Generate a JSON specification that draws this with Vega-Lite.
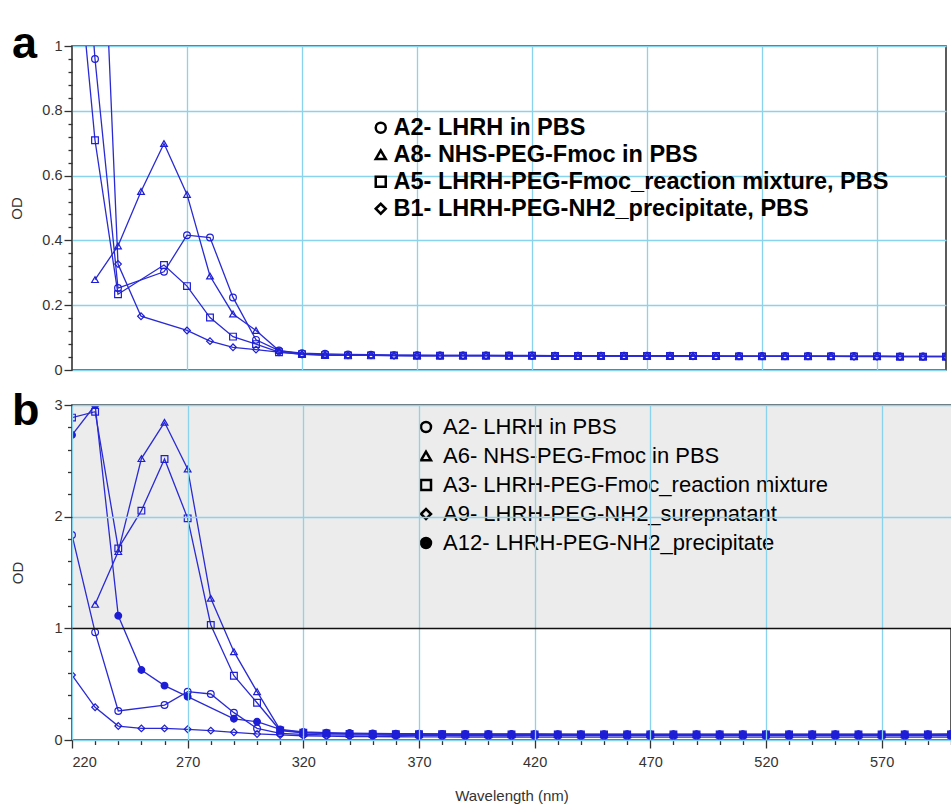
{
  "$schema": "https://vega.github.io/schema/vega-lite/v6.json",
  "autosize": {"type": "pad"},
  "padding": {"left": 9, "top": 21, "right": 0, "bottom": 0},
  "config": {
    "view": {"stroke": "#333333", "strokeWidth": 1.6},
    "axis": {
      "labelFont": "Liberation Sans", "labelFontSize": 14.5, "labelColor": "#333333",
      "titleFont": "Liberation Sans", "titleFontSize": 15, "titleFontWeight": "normal", "titleColor": "#333333",
      "domain": false, "tickColor": "#333333", "tickWidth": 1.3,
      "gridColor": "#8ad3ec", "gridOpacity": 1, "gridWidth": 1.3
    },
    "legend": {
      "orient": "none", "title": null, "labelFont": "Liberation Sans", "labelFontSize": 22,
      "labelColor": "black", "labelLimit": 1000, "symbolSize": 100, "symbolStrokeWidth": 2.5,
      "symbolStrokeColor": "black", "padding": 0, "labelOffset": 9
    }
  },
  "resolve": {"scale": {"shape": "independent", "x": "independent", "y": "independent"}, "legend": {"shape": "independent"}},
  "spacing": 35,
  "bounds": "flush",
  "vconcat": [
    {
      "width": 874,
      "height": 324,
      "title": {"text": "a", "anchor": "start", "frame": "group", "font": "Liberation Sans", "fontSize": 45, "fontWeight": "bold", "color": "black", "dx": -60, "dy": 65, "baseline": "alphabetic", "offset": 0},
      "data": {"name": "panelA"},
      "layer": [
        {
          "mark": {"type": "line", "clip": true, "color": "#2a2ad4", "strokeWidth": 1.3},
          "encoding": {
            "x": {"field": "wl", "type": "quantitative", "scale": {"domain": [220, 600], "nice": false, "zero": false},
                  "axis": {"values": [270, 320, 370, 420, 470, 520, 570], "grid": true, "labels": false, "ticks": false, "title": null}},
            "y": {"field": "od", "type": "quantitative", "scale": {"domain": [0, 1], "nice": false},
                  "axis": {"orient": "left", "values": [0, 0.2, 0.4, 0.6, 0.8, 1], "format": "~g", "grid": true, "tickSize": 8, "labelPadding": 2, "title": "OD", "titlePadding": 17}},
            "detail": {"field": "series"}
          }
        },
        {
          "mark": {"type": "point", "clip": true, "filled": false, "size": 45, "color": "#1e1ed6", "strokeWidth": 1.2, "opacity": 1},
          "encoding": {
            "x": {"field": "wl", "type": "quantitative", "axis": null},
            "y": {"field": "od", "type": "quantitative",
                  "axis": {"orient": "left", "values": [0.04, 0.08, 0.12, 0.16, 0.24, 0.28, 0.32, 0.36, 0.44, 0.48, 0.52, 0.56, 0.64, 0.68, 0.72, 0.76, 0.84, 0.88, 0.92, 0.96], "labels": false, "grid": false, "tickSize": 4, "title": null}},
            "shape": {"field": "series", "type": "nominal",
                      "scale": {"domain": ["A2", "A8", "A5", "B1"], "range": ["circle", "triangle-up", "square", "diamond"]},
                      "legend": {"legendX": 297, "legendY": 70, "labelFontWeight": "bold", "labelFontSize": 23.5, "rowPadding": 2, "labelOffset": 1,
                                 "labelExpr": "datum.label == 'A2' ? 'A2- LHRH in PBS' : datum.label == 'A8' ? 'A8- NHS-PEG-Fmoc in PBS' : datum.label == 'A5' ? 'A5- LHRH-PEG-Fmoc_reaction mixture, PBS' : 'B1- LHRH-PEG-NH2_precipitate, PBS'",
                                 "encode": {"symbols": {"stroke": {"value": "black"}, "fill": {"value": "transparent"}, "strokeWidth": {"value": 2.5}}}}}
          }
        }
      ],
      "resolve": {"axis": {"x": "independent", "y": "independent"}}
    },
    {
      "width": 879,
      "height": 335,
      "title": {"text": "b", "anchor": "start", "frame": "group", "font": "Liberation Sans", "fontSize": 45, "fontWeight": "bold", "color": "black", "dx": -60, "dy": 73, "baseline": "alphabetic", "offset": 0},
      "layer": [
        {
          "data": {"values": [{}]},
          "mark": {"type": "rect", "color": "#ececec"},
          "encoding": {
            "x": {"datum": 220, "type": "quantitative", "scale": {"domain": [220, 600], "nice": false, "zero": false}, "axis": null},
            "x2": {"datum": 600},
            "y": {"datum": 1, "type": "quantitative", "scale": {"domain": [0, 3], "nice": false}, "axis": null},
            "y2": {"datum": 3}
          }
        },
        {
          "data": {"name": "panelB"},
          "mark": {"type": "line", "clip": true, "color": "#2a2ad4", "strokeWidth": 1.3},
          "encoding": {
            "x": {"field": "wl", "type": "quantitative",
                  "axis": {"values": [220, 270, 320, 370, 420, 470, 520, 570], "grid": true, "tickSize": 8, "labelPadding": 7, "title": "Wavelength (nm)", "titlePadding": 20, "zindex": 1}},
            "y": {"field": "od", "type": "quantitative",
                  "axis": {"orient": "left", "values": [0, 1, 2, 3], "grid": true, "tickSize": 8, "labelPadding": 2, "title": "OD", "titlePadding": 28, "zindex": 1,
                           "gridColor": {"condition": {"test": "datum.value === 1", "value": "#111111"}, "value": "#8ad3ec"}}},
            "detail": {"field": "series"}
          }
        },
        {
          "data": {"name": "panelB"},
          "mark": {"type": "point", "clip": true, "filled": false, "size": 45, "color": "#1e1ed6", "strokeWidth": 1.2, "opacity": 1},
          "encoding": {
            "x": {"field": "wl", "type": "quantitative",
                  "axis": {"orient": "bottom", "values": [230, 240, 250, 260, 280, 290, 300, 310, 330, 340, 350, 360, 380, 390, 400, 410, 430, 440, 450, 460, 480, 490, 500, 510, 530, 540, 550, 560, 580, 590, 600], "labels": false, "grid": false, "tickSize": 4.5, "title": null}},
            "y": {"field": "od", "type": "quantitative",
                  "axis": {"orient": "left", "values": [0.2, 0.4, 0.6, 0.8, 1.2, 1.4, 1.6, 1.8, 2.2, 2.4, 2.6, 2.8], "labels": false, "grid": false, "tickSize": 4.5, "title": null}},
            "fill": {"condition": {"test": "datum.series === 'A12'", "value": "#1414d9"}, "value": "transparent"},
            "shape": {"field": "series", "type": "nominal",
                      "scale": {"domain": ["A2", "A6", "A3", "A9", "A12"],
                                "range": ["circle", "triangle-up", "square", "diamond", "M-1,0A1,1 0 1,0 1,0A1,1 0 1,0 -1,0ZM-0.64,0A0.64,0.64 0 1,0 0.64,0A0.64,0.64 0 1,0 -0.64,0ZM-0.28,0A0.28,0.28 0 1,0 0.28,0A0.28,0.28 0 1,0 -0.28,0Z"]},
                      "legend": {"legendX": 343, "legendY": 11, "labelFontWeight": "normal", "rowPadding": 7, "labelOffset": 6,
                                 "labelExpr": "datum.label == 'A2' ? 'A2- LHRH in PBS' : datum.label == 'A6' ? 'A6- NHS-PEG-Fmoc in PBS' : datum.label == 'A3' ? 'A3- LHRH-PEG-Fmoc_reaction mixture' : datum.label == 'A9' ? 'A9- LHRH-PEG-NH2_surepnatant' : 'A12- LHRH-PEG-NH2_precipitate'",
                                 "encode": {"symbols": {"stroke": {"value": "black"}, "strokeWidth": {"value": 2.5}}}}}
          }
        }
      ],
      "resolve": {"axis": {"x": "independent", "y": "independent"}}
    }
  ],
  "datasets": {
    "panelA": [
      {"series": "A2", "wl": 220, "od": 1.9}, {"series": "A2", "wl": 230, "od": 0.96}, {"series": "A2", "wl": 240, "od": 0.253}, {"series": "A2", "wl": 260, "od": 0.303}, {"series": "A2", "wl": 270, "od": 0.416}, {"series": "A2", "wl": 280, "od": 0.409}, {"series": "A2", "wl": 290, "od": 0.224}, {"series": "A2", "wl": 300, "od": 0.093}, {"series": "A2", "wl": 310, "od": 0.06},
      {"series": "A2", "wl": 320, "od": 0.052}, {"series": "A2", "wl": 330, "od": 0.05}, {"series": "A2", "wl": 340, "od": 0.048}, {"series": "A2", "wl": 350, "od": 0.047}, {"series": "A2", "wl": 360, "od": 0.046}, {"series": "A2", "wl": 370, "od": 0.046}, {"series": "A2", "wl": 380, "od": 0.045}, {"series": "A2", "wl": 390, "od": 0.045}, {"series": "A2", "wl": 400, "od": 0.045}, {"series": "A2", "wl": 410, "od": 0.045}, {"series": "A2", "wl": 420, "od": 0.045}, {"series": "A2", "wl": 430, "od": 0.044}, {"series": "A2", "wl": 440, "od": 0.044}, {"series": "A2", "wl": 450, "od": 0.044}, {"series": "A2", "wl": 460, "od": 0.044}, {"series": "A2", "wl": 470, "od": 0.044}, {"series": "A2", "wl": 480, "od": 0.044}, {"series": "A2", "wl": 490, "od": 0.044}, {"series": "A2", "wl": 500, "od": 0.043}, {"series": "A2", "wl": 510, "od": 0.043}, {"series": "A2", "wl": 520, "od": 0.043}, {"series": "A2", "wl": 530, "od": 0.043}, {"series": "A2", "wl": 540, "od": 0.043}, {"series": "A2", "wl": 550, "od": 0.043}, {"series": "A2", "wl": 560, "od": 0.043}, {"series": "A2", "wl": 570, "od": 0.043}, {"series": "A2", "wl": 580, "od": 0.042}, {"series": "A2", "wl": 590, "od": 0.042}, {"series": "A2", "wl": 600, "od": 0.042},
      {"series": "A8", "wl": 230, "od": 0.279}, {"series": "A8", "wl": 240, "od": 0.383}, {"series": "A8", "wl": 250, "od": 0.551}, {"series": "A8", "wl": 260, "od": 0.699}, {"series": "A8", "wl": 270, "od": 0.542}, {"series": "A8", "wl": 280, "od": 0.29}, {"series": "A8", "wl": 290, "od": 0.173}, {"series": "A8", "wl": 300, "od": 0.122}, {"series": "A8", "wl": 310, "od": 0.06},
      {"series": "A8", "wl": 320, "od": 0.05}, {"series": "A8", "wl": 330, "od": 0.047}, {"series": "A8", "wl": 340, "od": 0.046}, {"series": "A8", "wl": 350, "od": 0.046}, {"series": "A8", "wl": 360, "od": 0.045}, {"series": "A8", "wl": 370, "od": 0.045}, {"series": "A8", "wl": 380, "od": 0.045}, {"series": "A8", "wl": 390, "od": 0.045}, {"series": "A8", "wl": 400, "od": 0.045}, {"series": "A8", "wl": 410, "od": 0.044}, {"series": "A8", "wl": 420, "od": 0.044}, {"series": "A8", "wl": 430, "od": 0.044}, {"series": "A8", "wl": 440, "od": 0.044}, {"series": "A8", "wl": 450, "od": 0.044}, {"series": "A8", "wl": 460, "od": 0.044}, {"series": "A8", "wl": 470, "od": 0.044}, {"series": "A8", "wl": 480, "od": 0.043}, {"series": "A8", "wl": 490, "od": 0.043}, {"series": "A8", "wl": 500, "od": 0.043}, {"series": "A8", "wl": 510, "od": 0.043}, {"series": "A8", "wl": 520, "od": 0.043}, {"series": "A8", "wl": 530, "od": 0.043}, {"series": "A8", "wl": 540, "od": 0.043}, {"series": "A8", "wl": 550, "od": 0.042}, {"series": "A8", "wl": 560, "od": 0.042}, {"series": "A8", "wl": 570, "od": 0.042}, {"series": "A8", "wl": 580, "od": 0.042}, {"series": "A8", "wl": 590, "od": 0.042}, {"series": "A8", "wl": 600, "od": 0.042},
      {"series": "A5", "wl": 220, "od": 1.46}, {"series": "A5", "wl": 230, "od": 0.709}, {"series": "A5", "wl": 240, "od": 0.234}, {"series": "A5", "wl": 260, "od": 0.324}, {"series": "A5", "wl": 270, "od": 0.259}, {"series": "A5", "wl": 280, "od": 0.162}, {"series": "A5", "wl": 290, "od": 0.103}, {"series": "A5", "wl": 300, "od": 0.08}, {"series": "A5", "wl": 310, "od": 0.055},
      {"series": "A5", "wl": 320, "od": 0.049}, {"series": "A5", "wl": 330, "od": 0.046}, {"series": "A5", "wl": 340, "od": 0.045}, {"series": "A5", "wl": 350, "od": 0.045}, {"series": "A5", "wl": 360, "od": 0.045}, {"series": "A5", "wl": 370, "od": 0.044}, {"series": "A5", "wl": 380, "od": 0.044}, {"series": "A5", "wl": 390, "od": 0.044}, {"series": "A5", "wl": 400, "od": 0.044}, {"series": "A5", "wl": 410, "od": 0.044}, {"series": "A5", "wl": 420, "od": 0.044}, {"series": "A5", "wl": 430, "od": 0.043}, {"series": "A5", "wl": 440, "od": 0.043}, {"series": "A5", "wl": 450, "od": 0.043}, {"series": "A5", "wl": 460, "od": 0.043}, {"series": "A5", "wl": 470, "od": 0.043}, {"series": "A5", "wl": 480, "od": 0.043}, {"series": "A5", "wl": 490, "od": 0.043}, {"series": "A5", "wl": 500, "od": 0.043}, {"series": "A5", "wl": 510, "od": 0.042}, {"series": "A5", "wl": 520, "od": 0.042}, {"series": "A5", "wl": 530, "od": 0.042}, {"series": "A5", "wl": 540, "od": 0.042}, {"series": "A5", "wl": 550, "od": 0.042}, {"series": "A5", "wl": 560, "od": 0.042}, {"series": "A5", "wl": 570, "od": 0.042}, {"series": "A5", "wl": 580, "od": 0.041}, {"series": "A5", "wl": 590, "od": 0.041}, {"series": "A5", "wl": 600, "od": 0.041},
      {"series": "B1", "wl": 230, "od": 2.0}, {"series": "B1", "wl": 240, "od": 0.327}, {"series": "B1", "wl": 250, "od": 0.166}, {"series": "B1", "wl": 270, "od": 0.122}, {"series": "B1", "wl": 280, "od": 0.089}, {"series": "B1", "wl": 290, "od": 0.07}, {"series": "B1", "wl": 300, "od": 0.063}, {"series": "B1", "wl": 310, "od": 0.055},
      {"series": "B1", "wl": 320, "od": 0.048}, {"series": "B1", "wl": 330, "od": 0.046}, {"series": "B1", "wl": 340, "od": 0.045}, {"series": "B1", "wl": 350, "od": 0.045}, {"series": "B1", "wl": 360, "od": 0.044}, {"series": "B1", "wl": 370, "od": 0.044}, {"series": "B1", "wl": 380, "od": 0.044}, {"series": "B1", "wl": 390, "od": 0.044}, {"series": "B1", "wl": 400, "od": 0.044}, {"series": "B1", "wl": 410, "od": 0.044}, {"series": "B1", "wl": 420, "od": 0.043}, {"series": "B1", "wl": 430, "od": 0.043}, {"series": "B1", "wl": 440, "od": 0.043}, {"series": "B1", "wl": 450, "od": 0.043}, {"series": "B1", "wl": 460, "od": 0.043}, {"series": "B1", "wl": 470, "od": 0.043}, {"series": "B1", "wl": 480, "od": 0.043}, {"series": "B1", "wl": 490, "od": 0.042}, {"series": "B1", "wl": 500, "od": 0.042}, {"series": "B1", "wl": 510, "od": 0.042}, {"series": "B1", "wl": 520, "od": 0.042}, {"series": "B1", "wl": 530, "od": 0.042}, {"series": "B1", "wl": 540, "od": 0.042}, {"series": "B1", "wl": 550, "od": 0.042}, {"series": "B1", "wl": 560, "od": 0.041}, {"series": "B1", "wl": 570, "od": 0.041}, {"series": "B1", "wl": 580, "od": 0.041}, {"series": "B1", "wl": 590, "od": 0.041}, {"series": "B1", "wl": 600, "od": 0.041}
    ],
    "panelB": [
      {"series": "A2", "wl": 220, "od": 1.836}, {"series": "A2", "wl": 230, "od": 0.964}, {"series": "A2", "wl": 240, "od": 0.26}, {"series": "A2", "wl": 260, "od": 0.313}, {"series": "A2", "wl": 270, "od": 0.433}, {"series": "A2", "wl": 280, "od": 0.412}, {"series": "A2", "wl": 290, "od": 0.245}, {"series": "A2", "wl": 300, "od": 0.104}, {"series": "A2", "wl": 310, "od": 0.06},
      {"series": "A2", "wl": 320, "od": 0.05}, {"series": "A2", "wl": 330, "od": 0.046}, {"series": "A2", "wl": 340, "od": 0.044}, {"series": "A2", "wl": 350, "od": 0.043}, {"series": "A2", "wl": 360, "od": 0.042}, {"series": "A2", "wl": 370, "od": 0.042}, {"series": "A2", "wl": 380, "od": 0.041}, {"series": "A2", "wl": 390, "od": 0.041}, {"series": "A2", "wl": 400, "od": 0.041}, {"series": "A2", "wl": 410, "od": 0.04}, {"series": "A2", "wl": 420, "od": 0.04}, {"series": "A2", "wl": 430, "od": 0.04}, {"series": "A2", "wl": 440, "od": 0.04}, {"series": "A2", "wl": 450, "od": 0.04}, {"series": "A2", "wl": 460, "od": 0.04}, {"series": "A2", "wl": 470, "od": 0.04}, {"series": "A2", "wl": 480, "od": 0.04}, {"series": "A2", "wl": 490, "od": 0.04}, {"series": "A2", "wl": 500, "od": 0.04}, {"series": "A2", "wl": 510, "od": 0.04}, {"series": "A2", "wl": 520, "od": 0.04}, {"series": "A2", "wl": 530, "od": 0.04}, {"series": "A2", "wl": 540, "od": 0.04}, {"series": "A2", "wl": 550, "od": 0.04}, {"series": "A2", "wl": 560, "od": 0.04}, {"series": "A2", "wl": 570, "od": 0.04}, {"series": "A2", "wl": 580, "od": 0.04}, {"series": "A2", "wl": 590, "od": 0.04}, {"series": "A2", "wl": 600, "od": 0.04},
      {"series": "A6", "wl": 230, "od": 1.215}, {"series": "A6", "wl": 240, "od": 1.687}, {"series": "A6", "wl": 250, "od": 2.52}, {"series": "A6", "wl": 260, "od": 2.845}, {"series": "A6", "wl": 270, "od": 2.427}, {"series": "A6", "wl": 280, "od": 1.269}, {"series": "A6", "wl": 290, "od": 0.791}, {"series": "A6", "wl": 300, "od": 0.433}, {"series": "A6", "wl": 310, "od": 0.09},
      {"series": "A6", "wl": 320, "od": 0.066}, {"series": "A6", "wl": 330, "od": 0.06}, {"series": "A6", "wl": 340, "od": 0.056}, {"series": "A6", "wl": 350, "od": 0.054}, {"series": "A6", "wl": 360, "od": 0.053}, {"series": "A6", "wl": 370, "od": 0.052}, {"series": "A6", "wl": 380, "od": 0.052}, {"series": "A6", "wl": 390, "od": 0.051}, {"series": "A6", "wl": 400, "od": 0.051}, {"series": "A6", "wl": 410, "od": 0.051}, {"series": "A6", "wl": 420, "od": 0.05}, {"series": "A6", "wl": 430, "od": 0.05}, {"series": "A6", "wl": 440, "od": 0.05}, {"series": "A6", "wl": 450, "od": 0.05}, {"series": "A6", "wl": 460, "od": 0.05}, {"series": "A6", "wl": 470, "od": 0.05}, {"series": "A6", "wl": 480, "od": 0.05}, {"series": "A6", "wl": 490, "od": 0.05}, {"series": "A6", "wl": 500, "od": 0.05}, {"series": "A6", "wl": 510, "od": 0.05}, {"series": "A6", "wl": 520, "od": 0.05}, {"series": "A6", "wl": 530, "od": 0.05}, {"series": "A6", "wl": 540, "od": 0.05}, {"series": "A6", "wl": 550, "od": 0.05}, {"series": "A6", "wl": 560, "od": 0.05}, {"series": "A6", "wl": 570, "od": 0.05}, {"series": "A6", "wl": 580, "od": 0.05}, {"series": "A6", "wl": 590, "od": 0.05}, {"series": "A6", "wl": 600, "od": 0.05},
      {"series": "A3", "wl": 220, "od": 2.887}, {"series": "A3", "wl": 230, "od": 2.94}, {"series": "A3", "wl": 240, "od": 1.716}, {"series": "A3", "wl": 250, "od": 2.054}, {"series": "A3", "wl": 260, "od": 2.516}, {"series": "A3", "wl": 270, "od": 1.985}, {"series": "A3", "wl": 280, "od": 1.03}, {"series": "A3", "wl": 290, "od": 0.576}, {"series": "A3", "wl": 300, "od": 0.334}, {"series": "A3", "wl": 310, "od": 0.085},
      {"series": "A3", "wl": 320, "od": 0.065}, {"series": "A3", "wl": 330, "od": 0.059}, {"series": "A3", "wl": 340, "od": 0.055}, {"series": "A3", "wl": 350, "od": 0.053}, {"series": "A3", "wl": 360, "od": 0.052}, {"series": "A3", "wl": 370, "od": 0.051}, {"series": "A3", "wl": 380, "od": 0.051}, {"series": "A3", "wl": 390, "od": 0.05}, {"series": "A3", "wl": 400, "od": 0.05}, {"series": "A3", "wl": 410, "od": 0.05}, {"series": "A3", "wl": 420, "od": 0.05}, {"series": "A3", "wl": 430, "od": 0.05}, {"series": "A3", "wl": 440, "od": 0.049}, {"series": "A3", "wl": 450, "od": 0.049}, {"series": "A3", "wl": 460, "od": 0.049}, {"series": "A3", "wl": 470, "od": 0.049}, {"series": "A3", "wl": 480, "od": 0.049}, {"series": "A3", "wl": 490, "od": 0.049}, {"series": "A3", "wl": 500, "od": 0.049}, {"series": "A3", "wl": 510, "od": 0.049}, {"series": "A3", "wl": 520, "od": 0.049}, {"series": "A3", "wl": 530, "od": 0.049}, {"series": "A3", "wl": 540, "od": 0.049}, {"series": "A3", "wl": 550, "od": 0.049}, {"series": "A3", "wl": 560, "od": 0.049}, {"series": "A3", "wl": 570, "od": 0.049}, {"series": "A3", "wl": 580, "od": 0.049}, {"series": "A3", "wl": 590, "od": 0.049}, {"series": "A3", "wl": 600, "od": 0.049},
      {"series": "A9", "wl": 220, "od": 0.582}, {"series": "A9", "wl": 230, "od": 0.293}, {"series": "A9", "wl": 240, "od": 0.125}, {"series": "A9", "wl": 250, "od": 0.104}, {"series": "A9", "wl": 260, "od": 0.104}, {"series": "A9", "wl": 270, "od": 0.096}, {"series": "A9", "wl": 280, "od": 0.084}, {"series": "A9", "wl": 290, "od": 0.069}, {"series": "A9", "wl": 300, "od": 0.054}, {"series": "A9", "wl": 310, "od": 0.045},
      {"series": "A9", "wl": 320, "od": 0.038}, {"series": "A9", "wl": 330, "od": 0.034}, {"series": "A9", "wl": 340, "od": 0.031}, {"series": "A9", "wl": 350, "od": 0.03}, {"series": "A9", "wl": 360, "od": 0.029}, {"series": "A9", "wl": 370, "od": 0.028}, {"series": "A9", "wl": 380, "od": 0.028}, {"series": "A9", "wl": 390, "od": 0.027}, {"series": "A9", "wl": 400, "od": 0.027}, {"series": "A9", "wl": 410, "od": 0.027}, {"series": "A9", "wl": 420, "od": 0.026}, {"series": "A9", "wl": 430, "od": 0.026}, {"series": "A9", "wl": 440, "od": 0.026}, {"series": "A9", "wl": 450, "od": 0.026}, {"series": "A9", "wl": 460, "od": 0.025}, {"series": "A9", "wl": 470, "od": 0.025}, {"series": "A9", "wl": 480, "od": 0.025}, {"series": "A9", "wl": 490, "od": 0.025}, {"series": "A9", "wl": 500, "od": 0.025}, {"series": "A9", "wl": 510, "od": 0.025}, {"series": "A9", "wl": 520, "od": 0.025}, {"series": "A9", "wl": 530, "od": 0.025}, {"series": "A9", "wl": 540, "od": 0.025}, {"series": "A9", "wl": 550, "od": 0.025}, {"series": "A9", "wl": 560, "od": 0.025}, {"series": "A9", "wl": 570, "od": 0.025}, {"series": "A9", "wl": 580, "od": 0.025}, {"series": "A9", "wl": 590, "od": 0.025}, {"series": "A9", "wl": 600, "od": 0.025},
      {"series": "A12", "wl": 220, "od": 2.731}, {"series": "A12", "wl": 230, "od": 3.0}, {"series": "A12", "wl": 240, "od": 1.113}, {"series": "A12", "wl": 250, "od": 0.627}, {"series": "A12", "wl": 260, "od": 0.487}, {"series": "A12", "wl": 270, "od": 0.388}, {"series": "A12", "wl": 290, "od": 0.19}, {"series": "A12", "wl": 300, "od": 0.164}, {"series": "A12", "wl": 310, "od": 0.095},
      {"series": "A12", "wl": 320, "od": 0.072}, {"series": "A12", "wl": 330, "od": 0.066}, {"series": "A12", "wl": 340, "od": 0.062}, {"series": "A12", "wl": 350, "od": 0.059}, {"series": "A12", "wl": 360, "od": 0.057}, {"series": "A12", "wl": 370, "od": 0.056}, {"series": "A12", "wl": 380, "od": 0.055}, {"series": "A12", "wl": 390, "od": 0.055}, {"series": "A12", "wl": 400, "od": 0.054}, {"series": "A12", "wl": 410, "od": 0.054}, {"series": "A12", "wl": 420, "od": 0.054}, {"series": "A12", "wl": 430, "od": 0.053}, {"series": "A12", "wl": 440, "od": 0.053}, {"series": "A12", "wl": 450, "od": 0.053}, {"series": "A12", "wl": 460, "od": 0.053}, {"series": "A12", "wl": 470, "od": 0.053}, {"series": "A12", "wl": 480, "od": 0.052}, {"series": "A12", "wl": 490, "od": 0.052}, {"series": "A12", "wl": 500, "od": 0.052}, {"series": "A12", "wl": 510, "od": 0.052}, {"series": "A12", "wl": 520, "od": 0.052}, {"series": "A12", "wl": 530, "od": 0.052}, {"series": "A12", "wl": 540, "od": 0.052}, {"series": "A12", "wl": 550, "od": 0.052}, {"series": "A12", "wl": 560, "od": 0.052}, {"series": "A12", "wl": 570, "od": 0.052}, {"series": "A12", "wl": 580, "od": 0.052}, {"series": "A12", "wl": 590, "od": 0.052}, {"series": "A12", "wl": 600, "od": 0.055}
    ]
  }
}
